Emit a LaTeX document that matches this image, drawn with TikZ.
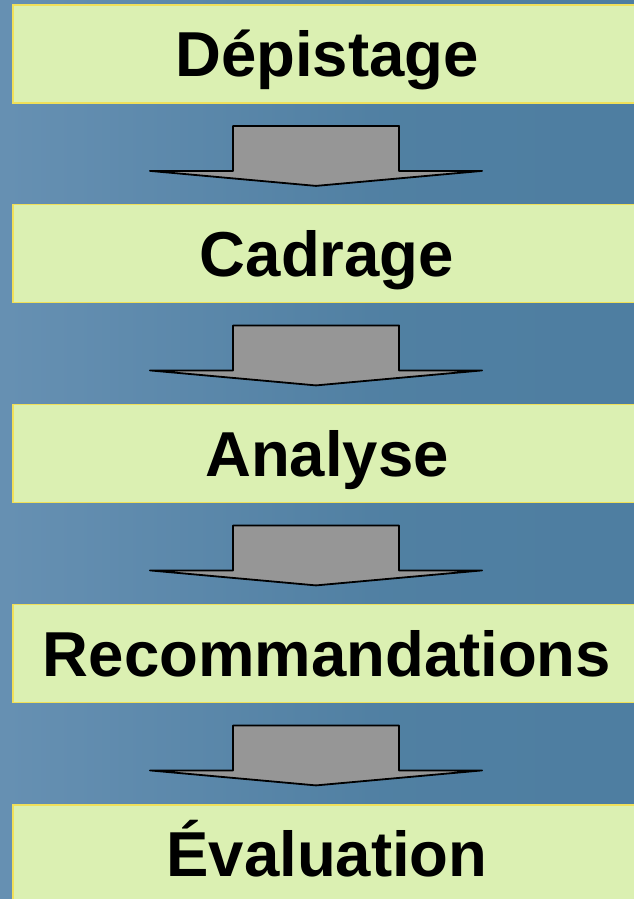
\documentclass[tikz,border=0pt]{standalone}
\usepackage{fontspec}
\setmainfont{Liberation Sans}
\usetikzlibrary{calc}
\definecolor{bgL}{RGB}{94,132,166}
\definecolor{bgM}{RGB}{106,147,181}
\definecolor{bgR}{RGB}{74,123,158}
\definecolor{boxfill}{RGB}{219,240,178}
\definecolor{boxline}{RGB}{240,224,90}
\definecolor{arrowfill}{RGB}{150,150,150}
\pgfdeclarehorizontalshading{bgshade}{100bp}{color(0bp)=(bgL); color(20bp)=(bgM); color(55bp)=(bgR!80!bgM); color(100bp)=(bgR)}
\tikzset{
  stagebox/.style={draw=boxline, line width=1.8pt, fill=boxfill, rectangle,
    minimum width=628pt, minimum height=98pt, inner sep=0pt,
    text height=45.5pt, text depth=0pt,
    font=\bfseries\fontsize{63.5}{70}\selectfont},
  blockarrow/.style={draw=black, line width=1.8pt, fill=arrowfill, line join=round}
}
\begin{document}
\begin{tikzpicture}[x=1pt,y=-1pt]
\useasboundingbox (0,0) rectangle (634,899);
\begin{scope}
\clip (0,0) rectangle (634,899);
\shade[shading=bgshade] (0,0) rectangle (634,899);
\node[stagebox] (b1) at (327,54) {Dépistage};
\node[stagebox] (b2) at (327,253.5) {Cadrage};
\node[stagebox] (b3) at (327,453.5) {Analyse};
\node[stagebox] (b4) at (327,653.5) {Recommandations};
\node[stagebox] (b5) at (327,854) {Évaluation};
\foreach \i in {b1,b2,b3,b4}{
  \draw[blockarrow] ($(\i.south)+(-94,22)$) -- ++(0,45) -- ++(-83,0)
    -- ($(\i.south)+(-11,82)$) -- ++(166,-15) -- ++(-83,0) -- ++(0,-45) -- cycle;
}
\end{scope}
\end{tikzpicture}
\end{document}
